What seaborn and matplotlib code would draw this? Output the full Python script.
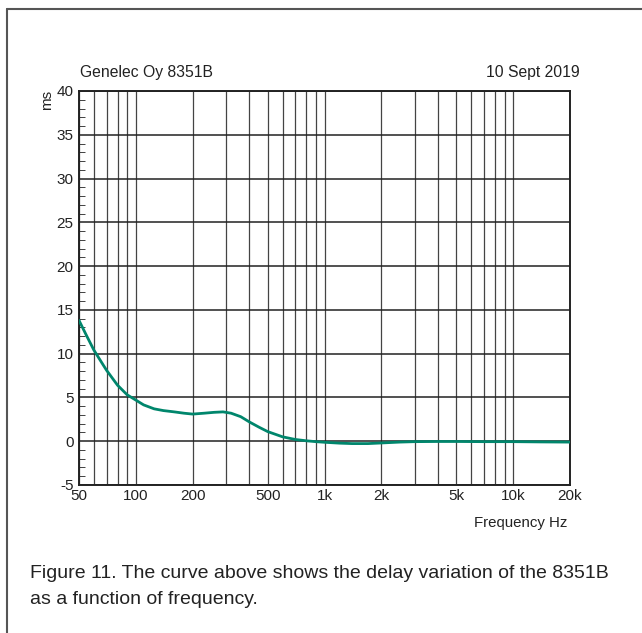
import matplotlib
matplotlib.use("Agg")
import matplotlib.pyplot as plt
from matplotlib.lines import Line2D
from matplotlib.ticker import FixedLocator, NullFormatter
import seaborn as sns
import pandas as pd

# -----------------------------------------------------------
# Data (delay vs frequency)
# -----------------------------------------------------------
freq_hz = [50, 55, 60, 65, 70, 80, 90, 100, 110, 125, 140, 160, 180, 200,
           230, 260, 290, 320, 360, 400, 450, 500, 600, 700, 800, 900,
           1000, 1200, 1400, 1700, 2000, 2500, 3000, 4000, 5000, 7000,
           10000, 14000, 20000]
delay_ms = [13.8, 12.0, 10.4, 9.2, 8.1, 6.4, 5.3, 4.7, 4.15, 3.7, 3.5, 3.35,
            3.2, 3.1, 3.2, 3.3, 3.35, 3.2, 2.8, 2.2, 1.6, 1.1, 0.5, 0.2,
            0.05, -0.05, -0.12, -0.22, -0.27, -0.27, -0.2, -0.1, -0.05,
            -0.03, -0.03, -0.05, -0.05, -0.08, -0.1]

x_ticks = [50, 100, 200, 500, 1000, 2000, 5000, 10000, 20000]
x_ticklabels = ["50", "100", "200", "500", "1k", "2k", "5k", "10k", "20k"]
x_grid_minor = [60, 70, 80, 90, 300, 400, 600, 700, 800, 900,
                3000, 4000, 6000, 7000, 8000, 9000]
y_ticks = [-5, 0, 5, 10, 15, 20, 25, 30, 35, 40]

df = pd.DataFrame({"Frequency": freq_hz, "Delay": delay_ms})

# -----------------------------------------------------------
# Plot
# -----------------------------------------------------------
sns.set_style("white")
plt.rcParams["font.family"] = ["Liberation Sans", "DejaVu Sans"]

fig = plt.figure(figsize=(6.42, 6.33), dpi=100)
ax = fig.add_axes([79 / 642, 1 - 485 / 633, 491 / 642, 394 / 633])

sns.lineplot(data=df, x="Frequency", y="Delay", ax=ax, color="#00866c",
             linewidth=2.0, zorder=5)

ax.set_xscale("log")
ax.set_xlim(50, 20000)
ax.set_ylim(-5, 40)

ax.xaxis.set_major_locator(FixedLocator(x_ticks))
ax.set_xticklabels(x_ticklabels, fontsize=11)
ax.xaxis.set_minor_locator(FixedLocator(x_grid_minor))
ax.xaxis.set_minor_formatter(NullFormatter())
ax.set_yticks(y_ticks)
ax.set_yticklabels([str(v) for v in y_ticks], fontsize=11)
ax.yaxis.set_minor_locator(FixedLocator(list(range(-5, 41))))

ax.tick_params(axis="x", which="both", length=0, pad=3, colors="#222222")
ax.tick_params(axis="y", which="major", length=3, direction="in", pad=4,
               colors="#222222")
ax.tick_params(axis="y", which="minor", length=4, direction="in",
               color="#222222", left=True)

ax.grid(True, axis="y", which="major", color="#222222", linewidth=1.1)
ax.grid(True, axis="x", which="both", color="#444444", linewidth=0.9)

for s in ax.spines.values():
    s.set_color("#222222")
    s.set_linewidth(1.4)

ax.set_xlabel("")
ax.set_ylabel("")

# texts around the plot
fig.text(80 / 642, 1 - 73 / 633, "Genelec Oy 8351B", fontsize=11.3,
         ha="left", va="center", color="#222222")
fig.text(580 / 642, 1 - 73 / 633, "10 Sept 2019", fontsize=11.3,
         ha="right", va="center", color="#222222")
fig.text(47 / 642, 1 - 100 / 633, "ms", fontsize=11, rotation=90,
         ha="center", va="center", color="#222222")
fig.text(567 / 642, 1 - 523 / 633, "Frequency Hz", fontsize=10.8,
         ha="right", va="center", color="#222222")
fig.text(30 / 642, 1 - 573 / 633,
         "Figure 11. The curve above shows the delay variation of the 8351B",
         fontsize=14, ha="left", va="center", color="#222222")
fig.text(30 / 642, 1 - 599 / 633, "as a function of frequency.",
         fontsize=14, ha="left", va="center", color="#222222")

# page frame (left and top rules)
fig.add_artist(Line2D([7 / 642, 7 / 642], [0, 1 - 9 / 633],
                      transform=fig.transFigure, color="#555555", lw=1.5))
fig.add_artist(Line2D([7 / 642, 1], [1 - 9 / 633, 1 - 9 / 633],
                      transform=fig.transFigure, color="#555555", lw=1.5))

fig.savefig("out.png", dpi=100)
